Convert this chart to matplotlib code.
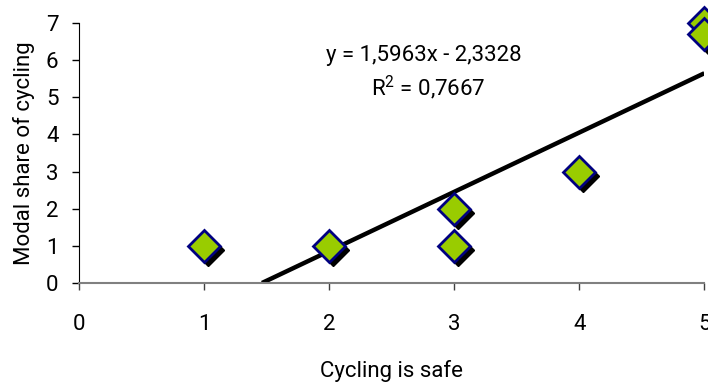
import matplotlib
matplotlib.use('Agg')
import matplotlib.pyplot as plt
import matplotlib.transforms as mtransforms
import numpy as np

# data
cycling_safe = [1, 2, 3, 3, 4, 5, 5]
modal_share = [1, 1, 2, 1, 3, 7, 6.7]
slope = 1.5963
intercept = -2.3328
r2 = 0.7667

plt.rcParams['font.family'] = ['Roboto', 'DejaVu Sans']
plt.rcParams['mathtext.fontset'] = 'custom'
plt.rcParams['mathtext.rm'] = 'Roboto'
plt.rcParams['mathtext.it'] = 'Roboto'

fig = plt.figure(figsize=(7.08, 3.85), dpi=100)
ax = fig.add_axes([0.112, 0.265, 0.8828, 0.675])

# trend line
x0 = -intercept / slope
xl = np.array([x0, 5])
ax.plot(xl, slope * xl + intercept, color='black', lw=3.2, solid_capstyle='butt', zorder=2)

# shadow then diamonds
shadow = mtransforms.offset_copy(ax.transData, fig=fig, x=4, y=-4, units='dots')
ax.plot(cycling_safe, modal_share, 'D', ms=16, color='black', mec='black',
        transform=shadow, clip_on=False, zorder=3)
ax.plot(cycling_safe, modal_share, 'D', ms=16, mfc='#99CC00', mec='#000080',
        mew=2, clip_on=False, zorder=4)

ax.set_xlim(0, 5)
ax.set_ylim(0, 7)
ax.set_xticks(range(6))
ax.set_yticks(range(8))
ax.tick_params(labelsize=16, length=5, width=1)
ax.tick_params(axis='x', pad=17, colors='#404040', labelcolor='black')
ax.tick_params(axis='y', pad=10)
ax.spines['top'].set_visible(False)
ax.spines['right'].set_visible(False)
ax.spines['bottom'].set_color('#808080')
ax.spines['bottom'].set_linewidth(1.5)

ax.set_xlabel('Cycling is safe', fontsize=16, labelpad=18)
ax.set_ylabel('Modal share of cycling', fontsize=16, labelpad=8)

eq = f'y = {slope:.4f}x - {abs(intercept):.4f}'.replace('.', ',')
ax.text(2.76, 6.12, eq, fontsize=16, ha='center', va='center')
ax.text(2.79, 5.25, r'R$^2$ = ' + f'{r2:.4f}'.replace('.', ','), fontsize=16,
        ha='center', va='center')

fig.savefig('out.png', dpi=100)
